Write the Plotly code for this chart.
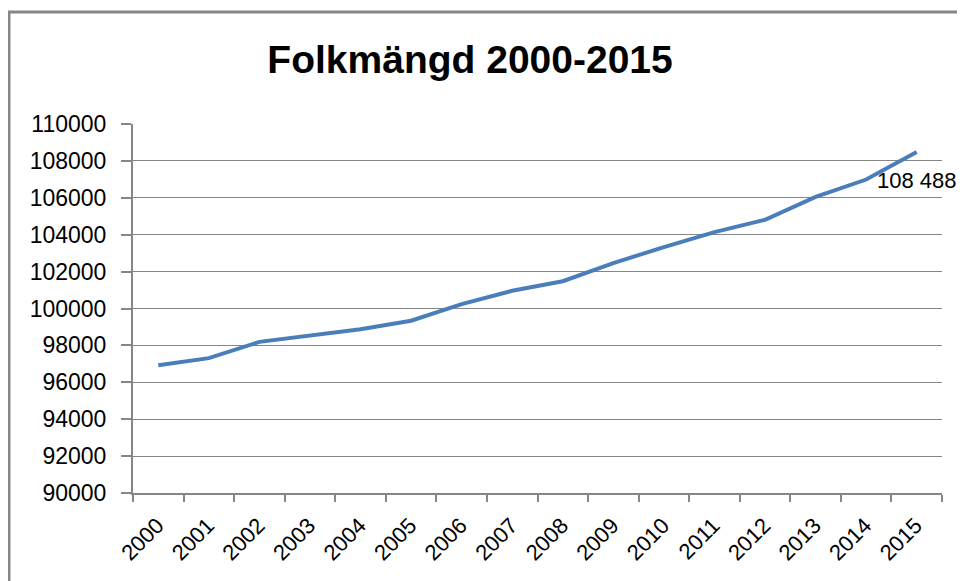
import plotly.graph_objects as go

years = [str(y) for y in range(2000, 2016)]
population = [96920, 97310, 98190, 98560, 98880, 99340, 100240, 100960,
              101480, 102460, 103330, 104140, 104810, 106050, 106990, 108488]
title_text = "Folkmängd 2000-2015"

last_label = f"{population[-1]:,}".replace(",", " ")

FONT = "Liberation Sans, Arial, sans-serif"
GRAY = "#868686"
TICK_SIZE = 23

fig = go.Figure()
fig.add_trace(go.Scatter(
    x=years, y=population, mode="lines",
    line=dict(color="#4a7ebb", width=4),
    showlegend=False, hoverinfo="x+y",
))

fig.add_annotation(
    x=len(years) - 1, y=population[-1], text=last_label, showarrow=False,
    xanchor="center", yanchor="top", xshift=0, yshift=-14,
    font=dict(family=FONT, size=22, color="black"),
)

# page body has an 8px margin, so the figure is 8px smaller than the window
fig.update_layout(
    width=957, height=573,
    margin=dict(l=125, r=23, t=116, b=88),
    paper_bgcolor="white", plot_bgcolor="white",
    font=dict(family=FONT, size=TICK_SIZE, color="black"),
    title=dict(text=f"<b>{title_text}</b>", x=0.4828, xref="container",
               xanchor="center", y=0.911, yref="container", yanchor="middle",
               font=dict(family=FONT, size=39, color="black")),
    xaxis=dict(type="category", categoryorder="array", categoryarray=years,
               range=[-0.5, len(years) - 0.5],
               tickson="boundaries", ticks="outside", ticklen=7,
               tickwidth=1.5, tickcolor=GRAY, showline=True, linecolor=GRAY,
               linewidth=2, showgrid=False, tickangle=-45,
               ticklabelshift=-1, ticklabelstandoff=9,
               tickfont=dict(family=FONT, size=22, color="black")),
    yaxis=dict(range=[90000, 110000], dtick=2000, tick0=90000, tickformat="d",
               ticks="outside", ticklen=10, tickwidth=1.5, tickcolor=GRAY,
               showline=True, linecolor=GRAY, linewidth=2,
               showgrid=True, gridcolor=GRAY, gridwidth=1, zeroline=False,
               ticklabelstandoff=10,
               tickfont=dict(family=FONT, size=TICK_SIZE, color="black")),
    shapes=[dict(type="rect", xref="paper", yref="paper",
                 x0=-0.1533, x1=1.05, y0=-0.28, y1=1.3035,
                 line=dict(color=GRAY, width=3), fillcolor="rgba(0,0,0,0)",
                 layer="below")],
)

fig.write_html("out.html")
